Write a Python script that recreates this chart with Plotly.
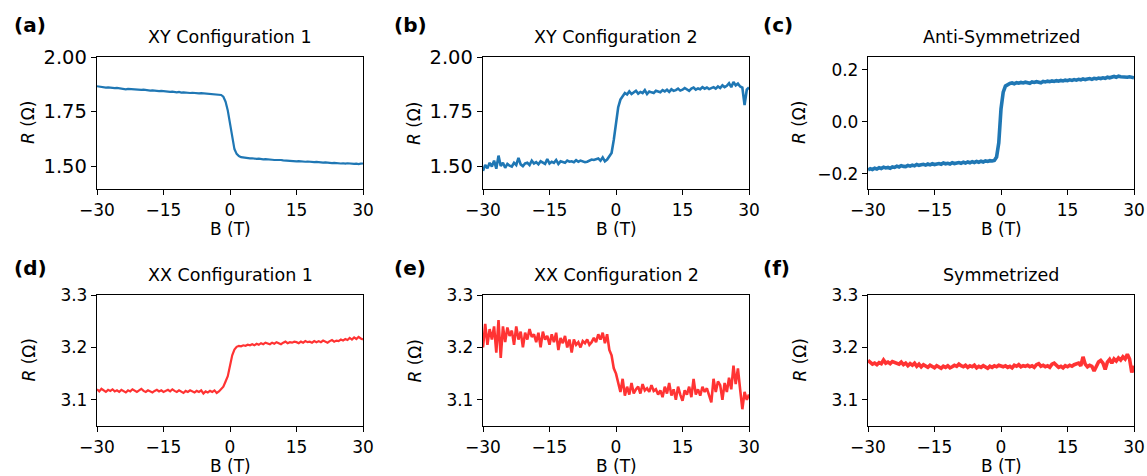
import numpy as np
import plotly.graph_objects as go

# Magnetic field grid (T)
B = np.round(np.arange(-30, 30.01, 0.5), 1)

xy_config1 = [
    1.866,1.864,1.862,1.863,1.860,1.861,1.859,1.860,1.857,1.858,
    1.856,1.857,1.855,1.852,1.854,1.853,1.851,1.852,1.850,1.851,
    1.849,1.850,1.848,1.849,1.846,1.847,1.845,1.846,1.844,1.845,
    1.843,1.841,1.842,1.840,1.841,1.839,1.838,1.840,1.837,1.838,
    1.836,1.837,1.835,1.836,1.834,1.835,1.833,1.834,1.833,1.832,
    1.833,1.831,1.832,1.831,1.830,1.829,1.826,1.818,1.795,1.755,
    1.690,1.625,1.578,1.556,1.546,1.541,1.539,1.537,1.536,1.535,
    1.536,1.534,1.533,1.534,1.532,1.531,1.532,1.530,1.531,1.529,
    1.528,1.529,1.527,1.528,1.526,1.525,1.526,1.524,1.525,1.523,
    1.522,1.523,1.521,1.522,1.520,1.521,1.519,1.520,1.518,1.519,
    1.517,1.518,1.516,1.517,1.515,1.516,1.514,1.515,1.513,1.514,
    1.512,1.513,1.511,1.513,1.511,1.512,1.510,1.511,1.509,1.511,1.512,
]

xy_config2 = [
    1.478,1.505,1.490,1.515,1.498,1.525,1.488,1.548,1.500,1.515,
    1.492,1.510,1.502,1.498,1.515,1.505,1.538,1.508,1.500,1.512,
    1.515,1.505,1.525,1.512,1.518,1.508,1.522,1.515,1.510,1.532,
    1.512,1.520,1.515,1.528,1.510,1.522,1.518,1.515,1.525,1.520,
    1.522,1.518,1.527,1.520,1.525,1.522,1.518,1.520,1.525,1.530,
    1.528,1.532,1.535,1.525,1.540,1.522,1.530,1.545,1.560,1.620,
    1.700,1.770,1.805,1.820,1.835,1.828,1.842,1.830,1.838,1.845,
    1.832,1.840,1.835,1.848,1.830,1.842,1.838,1.835,1.845,1.840,
    1.838,1.848,1.842,1.850,1.840,1.852,1.845,1.848,1.855,1.846,
    1.850,1.858,1.852,1.845,1.855,1.860,1.850,1.856,1.852,1.862,
    1.855,1.860,1.853,1.858,1.862,1.855,1.865,1.858,1.870,1.862,
    1.868,1.880,1.862,1.885,1.870,1.878,1.865,1.860,1.780,1.850,1.860,
]

anti_sym = [
    -0.185,-0.180,-0.183,-0.178,-0.181,-0.176,-0.179,-0.174,-0.177,-0.175,
    -0.178,-0.173,-0.175,-0.170,-0.173,-0.168,-0.171,-0.172,-0.167,-0.170,
    -0.166,-0.169,-0.164,-0.167,-0.165,-0.163,-0.166,-0.162,-0.165,-0.161,
    -0.164,-0.162,-0.160,-0.163,-0.158,-0.161,-0.159,-0.162,-0.157,-0.160,
    -0.158,-0.156,-0.159,-0.155,-0.158,-0.154,-0.157,-0.153,-0.156,-0.152,
    -0.155,-0.151,-0.154,-0.150,-0.152,-0.149,-0.150,-0.148,-0.135,-0.080,
    0.050,0.115,0.138,0.145,0.148,0.150,0.147,0.151,0.149,0.152,
    0.150,0.153,0.151,0.149,0.154,0.152,0.155,0.153,0.151,0.156,
    0.154,0.157,0.155,0.158,0.156,0.159,0.157,0.160,0.158,0.161,
    0.159,0.162,0.160,0.163,0.161,0.164,0.162,0.166,0.163,0.165,
    0.167,0.164,0.168,0.166,0.169,0.167,0.170,0.168,0.172,0.170,
    0.173,0.175,0.172,0.176,0.174,0.173,0.175,0.172,0.174,0.171,0.170,
]

xx_config1 = [
    3.120,3.116,3.121,3.118,3.115,3.119,3.117,3.120,3.116,3.118,
    3.115,3.119,3.117,3.114,3.118,3.116,3.120,3.117,3.115,3.118,
    3.121,3.117,3.115,3.118,3.116,3.114,3.117,3.119,3.116,3.118,
    3.115,3.117,3.119,3.116,3.120,3.117,3.115,3.118,3.116,3.113,
    3.117,3.115,3.118,3.116,3.114,3.117,3.115,3.118,3.112,3.116,
    3.114,3.117,3.115,3.118,3.113,3.116,3.120,3.125,3.135,3.145,
    3.165,3.185,3.196,3.201,3.203,3.202,3.204,3.203,3.205,3.204,
    3.206,3.204,3.207,3.205,3.208,3.206,3.209,3.207,3.206,3.209,
    3.207,3.210,3.208,3.206,3.209,3.211,3.208,3.210,3.209,3.211,
    3.210,3.208,3.211,3.209,3.212,3.210,3.211,3.209,3.212,3.210,
    3.212,3.210,3.213,3.211,3.209,3.212,3.214,3.211,3.213,3.212,
    3.215,3.213,3.216,3.214,3.218,3.215,3.219,3.216,3.220,3.217,3.215,
]

xx_config2 = [
    3.200,3.245,3.205,3.235,3.215,3.240,3.190,3.252,3.180,3.240,
    3.210,3.238,3.222,3.232,3.205,3.240,3.215,3.230,3.200,3.228,
    3.215,3.235,3.220,3.225,3.210,3.228,3.200,3.230,3.215,3.222,
    3.205,3.225,3.210,3.228,3.195,3.218,3.208,3.222,3.200,3.215,
    3.190,3.215,3.205,3.210,3.200,3.212,3.208,3.215,3.205,3.210,
    3.218,3.210,3.225,3.215,3.228,3.208,3.225,3.195,3.185,3.160,
    3.150,3.130,3.115,3.140,3.108,3.125,3.110,3.132,3.112,3.120,
    3.125,3.112,3.130,3.118,3.122,3.115,3.128,3.117,3.120,3.110,
    3.118,3.105,3.125,3.112,3.132,3.108,3.120,3.100,3.125,3.110,
    3.098,3.118,3.110,3.125,3.105,3.140,3.110,3.120,3.108,3.125,
    3.115,3.122,3.108,3.095,3.140,3.115,3.135,3.128,3.100,3.132,
    3.115,3.142,3.120,3.165,3.130,3.160,3.120,3.082,3.115,3.100,3.110,
]

sym = [
    3.175,3.172,3.168,3.170,3.167,3.171,3.169,3.176,3.170,3.172,
    3.169,3.173,3.171,3.170,3.168,3.172,3.167,3.170,3.165,3.169,
    3.166,3.170,3.164,3.168,3.163,3.167,3.165,3.162,3.166,3.164,
    3.161,3.165,3.163,3.160,3.164,3.162,3.165,3.161,3.163,3.166,
    3.164,3.168,3.165,3.163,3.166,3.162,3.165,3.163,3.166,3.161,
    3.164,3.162,3.165,3.163,3.160,3.164,3.162,3.165,3.163,3.166,
    3.164,3.163,3.165,3.162,3.164,3.161,3.166,3.164,3.167,3.163,
    3.165,3.164,3.166,3.163,3.165,3.162,3.167,3.169,3.164,3.166,
    3.163,3.165,3.162,3.168,3.170,3.166,3.162,3.164,3.161,3.165,
    3.163,3.166,3.164,3.167,3.169,3.170,3.165,3.182,3.168,3.163,
    3.166,3.164,3.155,3.165,3.172,3.175,3.170,3.158,3.172,3.177,
    3.170,3.178,3.174,3.180,3.176,3.182,3.178,3.187,3.178,3.152,3.165,
]

titles = ["XY Configuration 1", "XY Configuration 2", "Anti-Symmetrized",
          "XX Configuration 1", "XX Configuration 2", "Symmetrized"]
panel_labels = ["(a)", "(b)", "(c)", "(d)", "(e)", "(f)"]
x_tickvals = [-30, -15, 0, 15, 30]
x_ticktext = ["\u221230", "\u221215", "0", "15", "30"]
y_tickvals_xy = [1.50, 1.75, 2.00]
y_ticktext_xy = ["1.50", "1.75", "2.00"]
y_tickvals_as = [-0.2, 0.0, 0.2]
y_ticktext_as = ["\u22120.2", "0.0", "0.2"]
y_tickvals_xx = [3.1, 3.2, 3.3]
y_ticktext_xx = ["3.1", "3.2", "3.3"]

BLUE = "#1f77b4"
RED = "#ff3333"
FONT = "DejaVu Sans"
W, H = 1147, 476

series = [xy_config1, xy_config2, anti_sym, xx_config1, xx_config2, sym]
colors = [BLUE, BLUE, BLUE, RED, RED, RED]
widths = [2.2, 2.6, 3.6, 2.2, 2.6, 3.6]
yranges = [[1.395, 2.0], [1.395, 2.0], [-0.258, 0.25],
           [3.05, 3.3], [3.05, 3.3], [3.05, 3.3]]
yticks = [(y_tickvals_xy, y_ticktext_xy), (y_tickvals_xy, y_ticktext_xy),
          (y_tickvals_as, y_ticktext_as), (y_tickvals_xx, y_ticktext_xx),
          (y_tickvals_xx, y_ticktext_xx), (y_tickvals_xx, y_ticktext_xx)]
ytick_sizes = [19.5, 19.5, 17, 17, 17, 17]

# pixel boxes of axes: (left, right, top, bottom)
col_px = [(97, 363), (483, 749), (868, 1134)]
row_px = [(57, 189), (295, 426)]

fig = go.Figure()
annotations = []
layout = {}
for k in range(6):
    r, c = divmod(k, 3)
    l, rr = col_px[c]
    t, b = row_px[r]
    xd = [l / W, rr / W]
    yd = [1 - b / H, 1 - t / H]
    sfx = "" if k == 0 else str(k + 1)
    fig.add_trace(go.Scatter(x=B, y=series[k], mode="lines",
                             line=dict(color=colors[k], width=widths[k]),
                             xaxis="x" + sfx, yaxis="y" + sfx,
                             showlegend=False, hoverinfo="skip"))
    axstyle = dict(showline=True, linecolor="black", linewidth=1.3, mirror=True,
                   ticks="outside", ticklen=5, tickwidth=1.3, tickcolor="black",
                   showgrid=False, zeroline=False, automargin=False)
    layout["xaxis" + sfx] = dict(domain=xd, range=[-30, 30], anchor="y" + sfx,
                                 tickvals=x_tickvals, ticktext=x_ticktext,
                                 tickfont=dict(family=FONT, size=17, color="black"),
                                 **axstyle)
    layout["yaxis" + sfx] = dict(domain=yd, range=yranges[k], anchor="x" + sfx,
                                 tickvals=yticks[k][0], ticktext=yticks[k][1],
                                 tickfont=dict(family=FONT, size=ytick_sizes[k], color="black"),
                                 **axstyle)
    cx = (l + rr) / 2 / W
    # title
    annotations.append(dict(text=titles[k], x=cx, y=1 - (t - 20) / H,
                            xref="paper", yref="paper", showarrow=False,
                            xanchor="center", yanchor="middle",
                            font=dict(family=FONT, size=17.5, color="black")))
    # x label
    annotations.append(dict(text="B (T)", x=cx, y=1 - (b + 40) / H,
                            xref="paper", yref="paper", showarrow=False,
                            xanchor="center", yanchor="middle",
                            font=dict(family=FONT, size=17, color="black")))
    # y label
    annotations.append(dict(text="<i>R</i> (\u03a9)", x=(l - 69) / W,
                            y=1 - (t + b) / 2 / H,
                            xref="paper", yref="paper", showarrow=False,
                            textangle=-90, xanchor="center", yanchor="middle",
                            font=dict(family=FONT, size=17, color="black")))
    # panel label
    lx = [12, 392, 761][c]
    ly = [25, 268][r]
    annotations.append(dict(text="<b>" + panel_labels[k] + "</b>", x=lx / W, y=1 - ly / H,
                            xref="paper", yref="paper", showarrow=False,
                            xanchor="left", yanchor="middle",
                            font=dict(family=FONT, size=20, color="black")))

fig.update_layout(width=W, height=H, margin=dict(l=0, r=0, t=0, b=0),
                  paper_bgcolor="white", plot_bgcolor="white",
                  annotations=annotations, **layout)
fig.write_html("out.html")
